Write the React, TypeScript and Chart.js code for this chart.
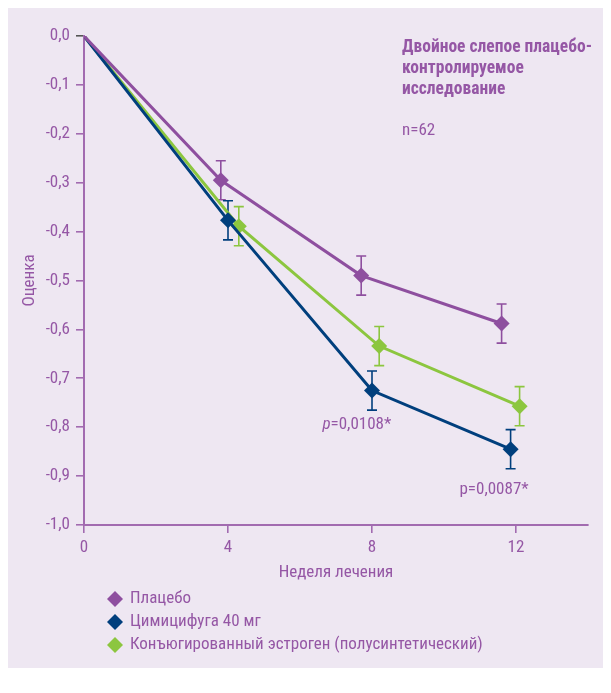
import React, { useEffect, useRef } from 'react';
import { Chart, registerables } from 'chart.js';

Chart.register(...registerables);

const FONT = '"Roboto Condensed", "Liberation Sans", Arial, sans-serif';
const FS = 17;
const TEXT_COLOR = '#9557a5';
const AXIS_COLOR = '#a26bb0';
const BG = '#eee7f2';

const seriesNames = ['Плацебо', 'Цимицифуга 40 мг', 'Конъюгированный эстроген (полусинтетический)'];
const seriesColors = ['#8e4f9f', '#003f7d', '#8cc63f'];

const placeboWeeks = [0, 3.8, 7.7, 11.6];
const placeboValues = [0, -0.295, -0.49, -0.588];
const placeboErrors = [0, 0.04, 0.04, 0.04];

const cimiWeeks = [0, 4.0, 8.0, 11.85];
const cimiValues = [0, -0.377, -0.725, -0.845];
const cimiErrors = [0, 0.04, 0.04, 0.04];

const estrogenWeeks = [0, 4.3, 8.2, 12.1];
const estrogenValues = [0, -0.389, -0.634, -0.757];
const estrogenErrors = [0, 0.04, 0.04, 0.04];

const xTickValues = [0, 4, 8, 12];

const titleLines = ['Двойное слепое плацебо-', 'контролируемое', 'исследование'];
const sampleText = 'n=62';
const pLabels = ['p=0,0108*', 'p=0,0087*'];
const pLabelWeeks = [7.58, 11.39];
const pLabelValues = [-0.7955, -0.928];
const pLabelItalicP = [true, false];

const xTitle = 'Неделя лечения';
const yTitle = 'Оценка';

const errorBarPlugin = {
  id: 'errorBars',
  beforeDatasetsDraw(chart: any) {
    const { ctx, scales } = chart;
    const xs = scales.x;
    const ys = scales.y;
    chart.data.datasets.forEach((ds: any) => {
      const errs: number[] = ds.errors || [];
      ctx.save();
      ctx.strokeStyle = ds.borderColor;
      ctx.lineWidth = 1.6;
      ds.data.forEach((pt: any, i: number) => {
        const e = errs[i];
        if (!e) return;
        const px = xs.getPixelForValue(pt.x);
        const top = ys.getPixelForValue(pt.y + e);
        const bot = ys.getPixelForValue(pt.y - e);
        ctx.beginPath();
        ctx.moveTo(px, top);
        ctx.lineTo(px, bot);
        ctx.moveTo(px - 5, top);
        ctx.lineTo(px + 5, top);
        ctx.moveTo(px - 5, bot);
        ctx.lineTo(px + 5, bot);
        ctx.stroke();
      });
      ctx.restore();
    });
  },
};

const textPlugin = {
  id: 'texts',
  afterDraw(chart: any) {
    const { ctx, scales, chartArea } = chart;
    ctx.save();
    ctx.fillStyle = TEXT_COLOR;
    ctx.textBaseline = 'middle';
    ctx.textAlign = 'left';
    // Title block
    const tx = chartArea.left + 318;
    ctx.font = `bold 17.5px ${FONT}`;
    titleLines.forEach((l, i) => {
      ctx.fillText(l, tx, chartArea.top + 12 + i * 21);
    });
    ctx.font = `${FS}px ${FONT}`;
    ctx.fillText(sampleText, tx, chartArea.top + 95);

    // p-value annotations
    pLabels.forEach((label, i) => {
      const cx = scales.x.getPixelForValue(pLabelWeeks[i]);
      const cy = scales.y.getPixelForValue(pLabelValues[i]);
      if (pLabelItalicP[i]) {
        ctx.font = `italic ${FS}px ${FONT}`;
        const w1 = ctx.measureText('p').width;
        ctx.font = `${FS}px ${FONT}`;
        const rest = label.slice(1);
        const w2 = ctx.measureText(rest).width;
        const sx = cx - (w1 + w2) / 2;
        ctx.font = `italic ${FS}px ${FONT}`;
        ctx.fillText('p', sx, cy);
        ctx.font = `${FS}px ${FONT}`;
        ctx.fillText(rest, sx + w1, cy);
      } else {
        ctx.font = `${FS}px ${FONT}`;
        ctx.textAlign = 'center';
        ctx.fillText(label, cx, cy);
        ctx.textAlign = 'left';
      }
    });

    // Legend
    const lx = chartArea.left + 31;
    const ly = chartArea.bottom + 74;
    ctx.font = `${FS}px ${FONT}`;
    chart.data.datasets.forEach((ds: any, i: number) => {
      const y = ly + i * 23;
      const r = 8;
      ctx.fillStyle = ds.borderColor;
      ctx.beginPath();
      ctx.moveTo(lx, y - r);
      ctx.lineTo(lx + r, y);
      ctx.lineTo(lx, y + r);
      ctx.lineTo(lx - r, y);
      ctx.closePath();
      ctx.fill();
      ctx.fillStyle = TEXT_COLOR;
      ctx.fillText(ds.label, lx + 15, y);
    });
    ctx.restore();
  },
};

function toPoints(xs: number[], ys: number[]) {
  return xs.map((x, i) => ({ x, y: ys[i] }));
}

export default function App() {
  const ref = useRef<HTMLCanvasElement | null>(null);

  useEffect(() => {
    if (!ref.current) return;
    const mk = (i: number, xs: number[], ys: number[], errs: number[]) => ({
      label: seriesNames[i],
      data: toPoints(xs, ys),
      errors: errs,
      borderColor: seriesColors[i],
      backgroundColor: seriesColors[i],
      borderWidth: 3,
      pointStyle: 'rectRot',
      pointRadius: (c: any) => (c.dataIndex === 0 ? 0 : 8),
      pointBorderWidth: 0,
      pointBackgroundColor: seriesColors[i],
      tension: 0,
    });
    const chart = new Chart(ref.current, {
      type: 'line',
      data: {
        datasets: [
          mk(0, placeboWeeks, placeboValues, placeboErrors),
          mk(1, cimiWeeks, cimiValues, cimiErrors),
          mk(2, estrogenWeeks, estrogenValues, estrogenErrors),
        ] as any,
      },
      options: {
        animation: false,
        responsive: false,
        maintainAspectRatio: false,
        layout: { padding: { left: 0, top: 29, right: 23, bottom: 85 } },
        plugins: {
          legend: { display: false },
          tooltip: { enabled: false },
        },
        scales: {
          x: {
            type: 'linear',
            min: 0,
            max: 14,
            afterFit: (s: any) => {
              s.height = 58;
            },
            afterBuildTicks: (s: any) => {
              s.ticks = xTickValues.map((v) => ({ value: v }));
            },
            ticks: {
              color: TEXT_COLOR,
              font: { family: FONT, size: FS },
              padding: 5,
              maxRotation: 0,
              callback: (v: any) => String(v),
            },
            grid: {
              display: true,
              drawOnChartArea: false,
              drawTicks: true,
              tickLength: 8,
              color: AXIS_COLOR,
              lineWidth: 1.6,
            },
            border: { display: true, color: AXIS_COLOR, width: 2 },
            title: {
              display: true,
              text: xTitle,
              color: TEXT_COLOR,
              font: { family: FONT, size: FS },
              padding: { top: 0, bottom: 0 },
            },
          },
          y: {
            type: 'linear',
            min: -1,
            max: 0,
            afterFit: (s: any) => {
              s.width = 77;
            },
            ticks: {
              stepSize: 0.1,
              color: TEXT_COLOR,
              font: { family: FONT, size: FS },
              padding: 6,
              callback: (v: any) => Number(v).toFixed(1).replace('.', ','),
            },
            grid: {
              display: true,
              drawOnChartArea: false,
              drawTicks: true,
              tickLength: 8,
              color: (c: any) => (c.tick && Math.abs(c.tick.value) < 1e-9 ? '#555555' : AXIS_COLOR),
              lineWidth: 1.6,
            },
            border: { display: true, color: AXIS_COLOR, width: 2 },
            title: {
              display: true,
              text: yTitle,
              color: TEXT_COLOR,
              font: { family: FONT, size: FS },
              padding: { top: 13, bottom: 0 },
            },
          },
        },
      } as any,
      plugins: [errorBarPlugin, textPlugin],
    });
    return () => chart.destroy();
  }, []);

  return (
    <div style={{ margin: '-1px 0 0 -1px', width: 604, height: 661, background: BG }}>
      <canvas ref={ref} width={604} height={661} style={{ display: 'block', width: 604, height: 661 }} />
    </div>
  );
}
